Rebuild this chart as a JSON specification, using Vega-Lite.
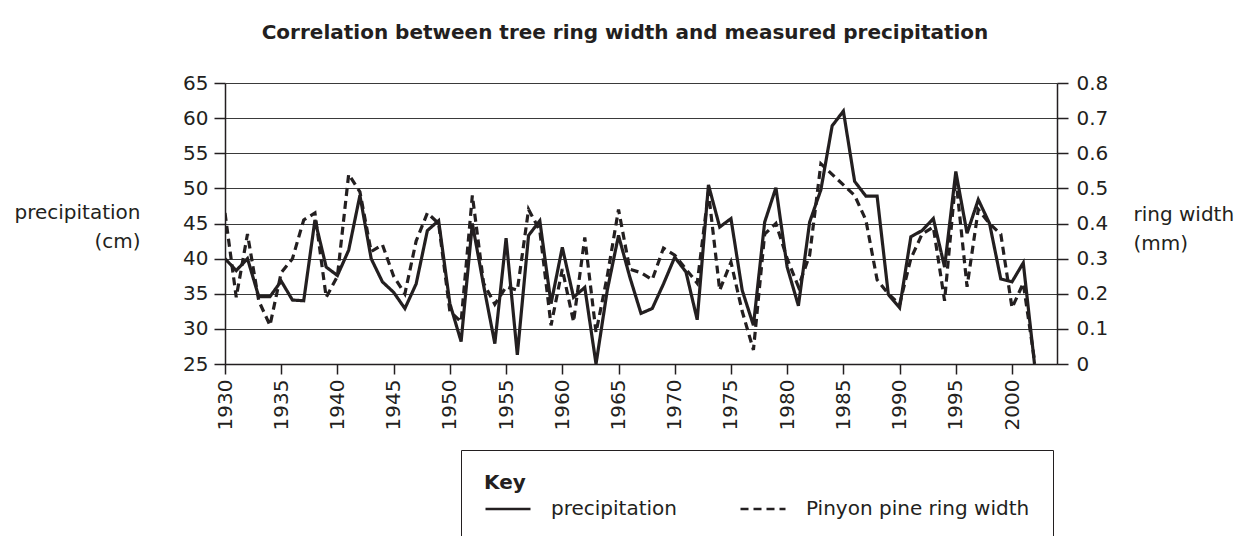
{
  "$schema": "https://vega.github.io/schema/vega-lite/v6.json",
  "autosize": {"type": "none"},
  "padding": {"left": 225, "top": 83, "right": 185, "bottom": 172},
  "width": 832,
  "height": 281,
  "background": "white",
  "title": {
    "text": "Correlation between tree ring width and measured precipitation",
    "font": "DejaVu Sans",
    "fontSize": 20,
    "fontWeight": "bold",
    "color": "#231f20",
    "anchor": "middle",
    "dx": -16,
    "offset": 30
  },
  "config": {
    "view": {"stroke": null},
    "axis": {
      "labelFont": "DejaVu Sans",
      "labelFontSize": 20,
      "labelColor": "#231f20",
      "titleFont": "DejaVu Sans",
      "titleFontSize": 20,
      "titleFontWeight": "normal",
      "titleColor": "#231f20",
      "domainColor": "#231f20",
      "domainWidth": 1.5,
      "tickColor": "#231f20",
      "tickWidth": 1.5
    },
    "legend": {
      "labelFont": "DejaVu Sans",
      "labelFontSize": 20,
      "labelColor": "#231f20",
      "titleFont": "DejaVu Sans",
      "titleFontSize": 20,
      "titleFontWeight": "bold",
      "titleColor": "#231f20"
    }
  },
  "data": {
    "values": [
      {"year": 1930, "precip": 40.0, "ring": 0.43},
      {"year": 1931, "precip": 38.3, "ring": 0.19},
      {"year": 1932, "precip": 40.0, "ring": 0.37},
      {"year": 1933, "precip": 34.6, "ring": 0.18},
      {"year": 1934, "precip": 34.6, "ring": 0.11},
      {"year": 1935, "precip": 36.8, "ring": 0.26},
      {"year": 1936, "precip": 34.1, "ring": 0.30},
      {"year": 1937, "precip": 34.0, "ring": 0.41},
      {"year": 1938, "precip": 45.5, "ring": 0.43},
      {"year": 1939, "precip": 38.8, "ring": 0.19},
      {"year": 1940, "precip": 37.6, "ring": 0.25},
      {"year": 1941, "precip": 41.2, "ring": 0.54},
      {"year": 1942, "precip": 49.0, "ring": 0.49},
      {"year": 1943, "precip": 40.0, "ring": 0.32},
      {"year": 1944, "precip": 36.7, "ring": 0.34},
      {"year": 1945, "precip": 35.2, "ring": 0.25},
      {"year": 1946, "precip": 32.9, "ring": 0.20},
      {"year": 1947, "precip": 36.4, "ring": 0.35},
      {"year": 1948, "precip": 44.0, "ring": 0.43},
      {"year": 1949, "precip": 45.4, "ring": 0.40},
      {"year": 1950, "precip": 33.6, "ring": 0.15},
      {"year": 1951, "precip": 28.2, "ring": 0.12},
      {"year": 1952, "precip": 45.0, "ring": 0.48},
      {"year": 1953, "precip": 36.2, "ring": 0.23},
      {"year": 1954, "precip": 27.9, "ring": 0.17},
      {"year": 1955, "precip": 42.9, "ring": 0.22},
      {"year": 1956, "precip": 26.3, "ring": 0.21},
      {"year": 1957, "precip": 43.3, "ring": 0.44},
      {"year": 1958, "precip": 45.4, "ring": 0.38},
      {"year": 1959, "precip": 33.6, "ring": 0.11},
      {"year": 1960, "precip": 41.6, "ring": 0.27},
      {"year": 1961, "precip": 34.5, "ring": 0.12},
      {"year": 1962, "precip": 35.9, "ring": 0.36},
      {"year": 1963, "precip": 25.0, "ring": 0.09},
      {"year": 1964, "precip": 35.5, "ring": 0.25},
      {"year": 1965, "precip": 43.3, "ring": 0.44},
      {"year": 1966, "precip": 37.4, "ring": 0.27},
      {"year": 1967, "precip": 32.2, "ring": 0.26},
      {"year": 1968, "precip": 32.9, "ring": 0.24},
      {"year": 1969, "precip": 36.4, "ring": 0.33},
      {"year": 1970, "precip": 40.2, "ring": 0.31},
      {"year": 1971, "precip": 38.1, "ring": 0.27},
      {"year": 1972, "precip": 31.3, "ring": 0.23},
      {"year": 1973, "precip": 50.5, "ring": 0.49},
      {"year": 1974, "precip": 44.5, "ring": 0.21},
      {"year": 1975, "precip": 45.7, "ring": 0.29},
      {"year": 1976, "precip": 35.5, "ring": 0.15},
      {"year": 1977, "precip": 30.5, "ring": 0.04},
      {"year": 1978, "precip": 45.2, "ring": 0.37},
      {"year": 1979, "precip": 50.1, "ring": 0.40},
      {"year": 1980, "precip": 38.8, "ring": 0.30},
      {"year": 1981, "precip": 33.3, "ring": 0.22},
      {"year": 1982, "precip": 45.2, "ring": 0.31},
      {"year": 1983, "precip": 49.8, "ring": 0.57},
      {"year": 1984, "precip": 58.9, "ring": 0.54},
      {"year": 1985, "precip": 61.0, "ring": 0.51},
      {"year": 1986, "precip": 51.0, "ring": 0.48},
      {"year": 1987, "precip": 48.9, "ring": 0.41},
      {"year": 1988, "precip": 48.9, "ring": 0.24},
      {"year": 1989, "precip": 34.9, "ring": 0.20},
      {"year": 1990, "precip": 33.0, "ring": 0.17},
      {"year": 1991, "precip": 43.1, "ring": 0.30},
      {"year": 1992, "precip": 44.0, "ring": 0.37},
      {"year": 1993, "precip": 45.7, "ring": 0.39},
      {"year": 1994, "precip": 38.8, "ring": 0.18},
      {"year": 1995, "precip": 52.4, "ring": 0.53},
      {"year": 1996, "precip": 43.6, "ring": 0.22},
      {"year": 1997, "precip": 48.4, "ring": 0.44},
      {"year": 1998, "precip": 45.0, "ring": 0.40},
      {"year": 1999, "precip": 37.1, "ring": 0.37},
      {"year": 2000, "precip": 36.7, "ring": 0.16},
      {"year": 2001, "precip": 39.4, "ring": 0.23},
      {"year": 2002, "precip": 25.0, "ring": 0.01}
    ]
  },
  "encoding": {
    "x": {
      "field": "year",
      "type": "quantitative",
      "scale": {"domain": [1930, 2004], "nice": false, "zero": false},
      "axis": {
        "title": null,
        "values": [1930, 1935, 1940, 1945, 1950, 1955, 1960, 1965, 1970, 1975, 1980, 1985, 1990, 1995, 2000],
        "format": "d",
        "labelAngle": -90,
        "labelAlign": "right",
        "labelBaseline": "middle",
        "labelPadding": 5,
        "tickSize": 10,
        "grid": false
      }
    }
  },
  "layer": [
    {
      "mark": {"type": "line", "color": "#231f20", "strokeWidth": 3.2, "clip": true},
      "encoding": {
        "y": {
          "field": "precip",
          "type": "quantitative",
          "scale": {"domain": [25, 65], "nice": false, "zero": false},
          "axis": {
            "orient": "left",
            "values": [25, 30, 35, 40, 45, 50, 55, 60, 65],
            "grid": true,
            "gridColor": "#3a3a3a",
            "gridWidth": 1,
            "tickSize": 11,
            "labelPadding": 6,
            "title": ["precipitation", "(cm)"],
            "titleAngle": 0,
            "titleAlign": "right",
            "titleBaseline": "alphabetic",
            "titleX": -85,
            "titleY": 135,
            "titleLineHeight": 29
          }
        },
        "strokeDash": {
          "datum": "precipitation",
          "type": "nominal",
          "scale": {"domain": ["precipitation", "Pinyon pine ring width"], "range": [[1, 0], [8, 5]]},
          "legend": {
            "orient": "none",
            "legendX": 236,
            "legendY": 367,
            "direction": "horizontal",
            "title": "Key",
            "titleAnchor": "start",
            "titlePadding": -8,
            "symbolType": "stroke",
            "symbolSize": 2025,
            "symbolStrokeWidth": 2.5,
            "symbolStrokeColor": "#231f20",
            "labelOffset": 19,
            "labelLimit": 0,
            "columnPadding": 58,
            "strokeColor": "#231f20",
            "fillColor": "white",
            "padding": 23
          }
        }
      }
    },
    {
      "mark": {"type": "line", "color": "#231f20", "strokeWidth": 3.2, "clip": true},
      "encoding": {
        "y": {
          "field": "ring",
          "type": "quantitative",
          "scale": {"domain": [0, 0.8], "nice": false},
          "axis": {
            "orient": "right",
            "values": [0, 0.1, 0.2, 0.3, 0.4, 0.5, 0.6, 0.7, 0.8],
            "format": ".1~f",
            "grid": false,
            "tickSize": 11,
            "labelPadding": 8,
            "title": ["ring width", "(mm)"],
            "titleAngle": 0,
            "titleAlign": "left",
            "titleBaseline": "alphabetic",
            "titleX": 76,
            "titleY": 137,
            "titleLineHeight": 29
          }
        },
        "strokeDash": {
          "datum": "Pinyon pine ring width",
          "type": "nominal"
        }
      }
    }
  ],
  "resolve": {"scale": {"y": "independent"}}
}
